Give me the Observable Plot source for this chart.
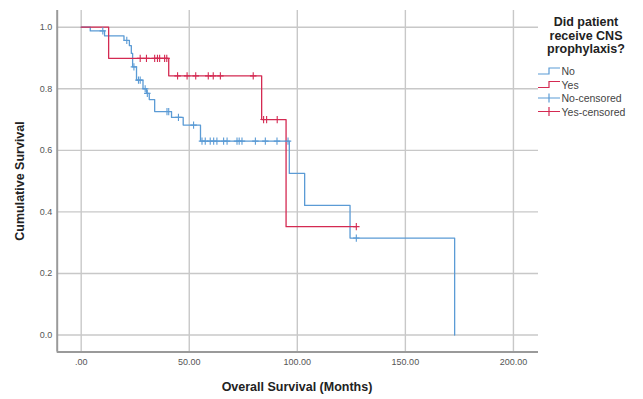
<!DOCTYPE html>
<html>
<head>
<meta charset="utf-8">
<script src="https://cdn.jsdelivr.net/npm/d3@7"></script>
<script src="https://cdn.jsdelivr.net/npm/@observablehq/plot@0.6"></script>
<style>
  html, body { margin: 0; padding: 0; background: #fff; }
  #wrap { position: relative; width: 643px; height: 399px; font-family: "Liberation Sans", Arial, sans-serif; }
  #wrap svg { display: block; }
  .ttl { position: absolute; font-weight: bold; font-size: 12.5px; color: #222; white-space: nowrap; }
  #legend { position: absolute; left: 530px; top: 0; }
</style>
</head>
<body>
<div id="wrap"></div>
<script>
// ---- data ----
const xTicks = [0, 50, 100, 150, 200];
const yTicks = [0, 0.2, 0.4, 0.6, 0.8, 1.0];

// "No" group: step events (time in months, cumulative survival after the step)
const noTimes = [0, 4.2, 10.8, 19.8, 22.3, 23.2, 23.8, 25.6, 28.6, 30.2, 31.5, 34.0, 41.8, 47.2, 55.2, 96.3, 103.4, 124.4, 172.8];
const noSurv  = [1.0, 0.988, 0.972, 0.957, 0.94, 0.915, 0.871, 0.828, 0.80, 0.785, 0.765, 0.726, 0.707, 0.682, 0.63, 0.525, 0.421, 0.315, 0.0];
// "No" censored observations
const noCensorTimes = [10.0, 21.1, 24.4, 26.5, 27.3, 29.6, 30.6, 39.7, 40.5, 45.0, 52.0,
  55.9, 57.4, 59.7, 61.3, 62.8, 65.9, 67.5, 72.1, 73.1, 74.4, 80.6, 85.2, 90.6, 95.7, 127.3];
const noCensorSurv = [0.988, 0.957, 0.871, 0.828, 0.828, 0.80, 0.785, 0.726, 0.726, 0.707, 0.682,
  0.63, 0.63, 0.63, 0.63, 0.63, 0.63, 0.63, 0.63, 0.63, 0.63, 0.63, 0.63, 0.63, 0.63, 0.315];

// "Yes" group
const yesTimes = [0, 12.7, 40.5, 83.5, 94.8, 127.3];
const yesSurv  = [1.0, 0.899, 0.842, 0.70, 0.352, 0.352];
const yesCensorTimes = [27.3, 30.2, 34.0, 35.3, 36.3, 38.6, 39.6, 44.6, 49.0, 53.0, 58.8, 61.1, 64.4, 79.6, 84.4, 85.8, 90.7, 127.3];
const yesCensorSurv  = [0.899, 0.899, 0.899, 0.899, 0.899, 0.899, 0.899, 0.842, 0.842, 0.842, 0.842, 0.842, 0.842, 0.842, 0.70, 0.70, 0.70, 0.352];

const legendTitle = ["Did patient", "receive CNS", "prophylaxis?"];
const legendLabels = ["No", "Yes", "No-censored", "Yes-censored"];

const blue = "#5b9bd5";
const red = "#d42a52";

// ---- build tables ----
const noLine = noTimes.map((t, i) => ({t, s: noSurv[i]}));
const yesLine = yesTimes.map((t, i) => ({t, s: yesSurv[i]}));
const noCens = noCensorTimes.map((t, i) => ({t, s: noCensorSurv[i]}));
const yesCens = yesCensorTimes.map((t, i) => ({t, s: yesCensorSurv[i]}));

const xDom = [-11.1, 211.6];
const yDom = [-0.0552, 1.0543];

const plusSym = {
  draw(ctx, size) {
    const r = Math.sqrt(size / Math.PI);
    ctx.moveTo(0, -r); ctx.lineTo(0, r);
    ctx.moveTo(-r * 0.9, 0); ctx.lineTo(r * 0.9, 0);
  }
};

const chart = Plot.plot({
  width: 643,
  height: 399,
  marginLeft: 56.7,
  marginRight: 105,
  marginTop: 10,
  marginBottom: 47.5,
  style: { fontFamily: "'Liberation Sans', Arial, sans-serif", fontSize: "9px", background: "#fff", overflow: "visible" },
  x: { domain: xDom },
  y: { domain: yDom },
  marks: [
    Plot.gridX(xTicks, { stroke: "#c8c8c8", strokeOpacity: 1, strokeWidth: 1.4 }),
    Plot.gridY(yTicks, { stroke: "#c8c8c8", strokeOpacity: 1, strokeWidth: 1.4 }),
    Plot.ruleX([xDom[0]], { stroke: "#9a9a9a", strokeWidth: 2 }),
    Plot.ruleY([yDom[0]], { stroke: "#9a9a9a", strokeWidth: 2 }),
    Plot.axisX(xTicks, { tickSize: 0, tickPadding: 7, label: null, fill: "#555",
      tickFormat: d => d === 0 ? ".00" : d.toFixed(2) }),
    Plot.axisY(yTicks, { tickSize: 0, tickPadding: 5, label: null, fill: "#555",
      tickFormat: d => d.toFixed(1) }),
    Plot.line(noLine, { x: "t", y: "s", curve: "step-after", stroke: blue, strokeWidth: 1.3 }),
    Plot.line(yesLine, { x: "t", y: "s", curve: "step-after", stroke: red, strokeWidth: 1.3 }),
    Plot.dot(noCens, { x: "t", y: "s", symbol: plusSym, r: 3.6, stroke: blue, fill: "none", strokeWidth: 1.1 }),
    Plot.dot(yesCens, { x: "t", y: "s", symbol: plusSym, r: 3.6, stroke: red, fill: "none", strokeWidth: 1.1 })
  ]
});

const wrap = document.getElementById("wrap");
wrap.appendChild(chart);

// axis titles
const xt = document.createElement("div");
xt.className = "ttl";
xt.textContent = "Overall Survival (Months)";
xt.style.left = "297px"; xt.style.top = "387px";
xt.style.transform = "translate(-50%, -50%)";
wrap.appendChild(xt);

const yt = document.createElement("div");
yt.className = "ttl";
yt.textContent = "Cumulative Survival";
yt.style.left = "20px"; yt.style.top = "181px";
yt.style.transform = "translate(-50%, -50%) rotate(-90deg)";
wrap.appendChild(yt);

// legend
const ns = "http://www.w3.org/2000/svg";
const lg = document.createElementNS(ns, "svg");
lg.setAttribute("id", "legend");
lg.setAttribute("width", 113);
lg.setAttribute("height", 125);
lg.style.position = "absolute"; lg.style.left = "530px"; lg.style.top = "0px";
legendTitle.forEach((t, i) => {
  const el = document.createElementNS(ns, "text");
  el.setAttribute("x", 56); el.setAttribute("y", 22 + i * 13.5);
  el.setAttribute("text-anchor", "middle");
  el.setAttribute("dominant-baseline", "central");
  el.setAttribute("font-family", "'Liberation Sans', Arial, sans-serif");
  el.setAttribute("font-size", "12.5px");
  el.setAttribute("font-weight", "bold");
  el.setAttribute("fill", "#222");
  el.textContent = t;
  lg.appendChild(el);
});
const cols = [blue, red, blue, red];
legendLabels.forEach((t, i) => {
  const y = 71 + i * 13.5;
  const p = document.createElementNS(ns, "path");
  if (i < 2) p.setAttribute("d", `M8,${y + 3}H19V${y - 3}H30`);
  else p.setAttribute("d", `M8,${y}H30M19,${y - 4.5}V${y + 4.5}`);
  p.setAttribute("fill", "none");
  p.setAttribute("stroke", cols[i]);
  p.setAttribute("stroke-width", 1.2);
  lg.appendChild(p);
  const el = document.createElementNS(ns, "text");
  el.setAttribute("x", 31.5); el.setAttribute("y", y);
  el.setAttribute("dominant-baseline", "central");
  el.setAttribute("font-family", "'Liberation Sans', Arial, sans-serif");
  el.setAttribute("font-size", "10.5px");
  el.setAttribute("fill", "#444");
  el.textContent = t;
  lg.appendChild(el);
});
wrap.appendChild(lg);
</script>
</body>
</html>
